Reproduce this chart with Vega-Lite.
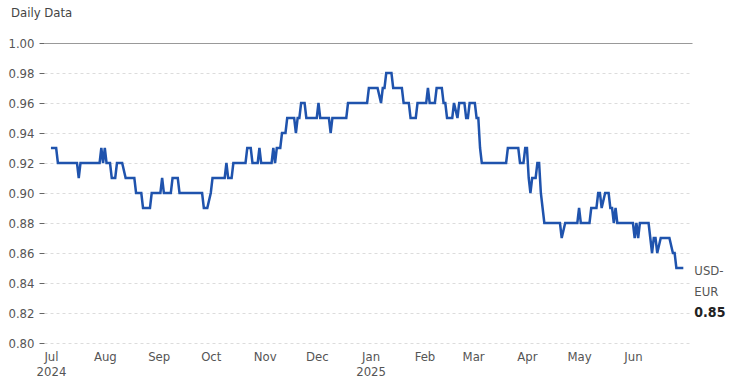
{
  "$schema": "https://vega.github.io/schema/vega-lite/v6.json",
  "width": 648,
  "height": 300,
  "autosize": "none",
  "padding": {"left": 44, "top": 43, "right": 42, "bottom": 44},
  "background": "white",
  "config": {
    "font": "DejaVu Sans Condensed",
    "view": {"stroke": null}
  },
  "title": {
    "text": "Daily Data",
    "anchor": "start",
    "frame": "group",
    "dx": -33,
    "offset": 17,
    "fontSize": 13,
    "fontWeight": "normal",
    "color": "#444",
    "font": "DejaVu Sans Condensed"
  },
  "data": {
    "values": [
      {"date": "2024-07-01", "value": 0.93},
      {"date": "2024-07-04", "value": 0.93},
      {"date": "2024-07-05", "value": 0.92},
      {"date": "2024-07-16", "value": 0.92},
      {"date": "2024-07-17", "value": 0.91},
      {"date": "2024-07-18", "value": 0.92},
      {"date": "2024-07-29", "value": 0.92},
      {"date": "2024-07-30", "value": 0.93},
      {"date": "2024-07-31", "value": 0.92},
      {"date": "2024-08-01", "value": 0.93},
      {"date": "2024-08-02", "value": 0.92},
      {"date": "2024-08-04", "value": 0.92},
      {"date": "2024-08-05", "value": 0.91},
      {"date": "2024-08-07", "value": 0.91},
      {"date": "2024-08-08", "value": 0.92},
      {"date": "2024-08-11", "value": 0.92},
      {"date": "2024-08-13", "value": 0.91},
      {"date": "2024-08-18", "value": 0.91},
      {"date": "2024-08-19", "value": 0.90},
      {"date": "2024-08-22", "value": 0.90},
      {"date": "2024-08-23", "value": 0.89},
      {"date": "2024-08-27", "value": 0.89},
      {"date": "2024-08-28", "value": 0.90},
      {"date": "2024-09-02", "value": 0.90},
      {"date": "2024-09-03", "value": 0.91},
      {"date": "2024-09-04", "value": 0.90},
      {"date": "2024-09-08", "value": 0.90},
      {"date": "2024-09-09", "value": 0.91},
      {"date": "2024-09-12", "value": 0.91},
      {"date": "2024-09-13", "value": 0.90},
      {"date": "2024-09-26", "value": 0.90},
      {"date": "2024-09-27", "value": 0.89},
      {"date": "2024-09-29", "value": 0.89},
      {"date": "2024-10-01", "value": 0.90},
      {"date": "2024-10-02", "value": 0.91},
      {"date": "2024-10-09", "value": 0.91},
      {"date": "2024-10-10", "value": 0.92},
      {"date": "2024-10-11", "value": 0.91},
      {"date": "2024-10-13", "value": 0.91},
      {"date": "2024-10-14", "value": 0.92},
      {"date": "2024-10-21", "value": 0.92},
      {"date": "2024-10-22", "value": 0.93},
      {"date": "2024-10-24", "value": 0.93},
      {"date": "2024-10-25", "value": 0.92},
      {"date": "2024-10-28", "value": 0.92},
      {"date": "2024-10-29", "value": 0.93},
      {"date": "2024-10-30", "value": 0.92},
      {"date": "2024-11-05", "value": 0.92},
      {"date": "2024-11-06", "value": 0.93},
      {"date": "2024-11-07", "value": 0.92},
      {"date": "2024-11-08", "value": 0.93},
      {"date": "2024-11-10", "value": 0.93},
      {"date": "2024-11-11", "value": 0.94},
      {"date": "2024-11-13", "value": 0.94},
      {"date": "2024-11-14", "value": 0.95},
      {"date": "2024-11-18", "value": 0.95},
      {"date": "2024-11-19", "value": 0.94},
      {"date": "2024-11-20", "value": 0.95},
      {"date": "2024-11-21", "value": 0.95},
      {"date": "2024-11-22", "value": 0.96},
      {"date": "2024-11-24", "value": 0.96},
      {"date": "2024-11-25", "value": 0.95},
      {"date": "2024-12-01", "value": 0.95},
      {"date": "2024-12-02", "value": 0.96},
      {"date": "2024-12-03", "value": 0.95},
      {"date": "2024-12-08", "value": 0.95},
      {"date": "2024-12-09", "value": 0.94},
      {"date": "2024-12-10", "value": 0.95},
      {"date": "2024-12-18", "value": 0.95},
      {"date": "2024-12-19", "value": 0.96},
      {"date": "2024-12-30", "value": 0.96},
      {"date": "2024-12-31", "value": 0.97},
      {"date": "2025-01-05", "value": 0.97},
      {"date": "2025-01-07", "value": 0.96},
      {"date": "2025-01-08", "value": 0.97},
      {"date": "2025-01-09", "value": 0.97},
      {"date": "2025-01-10", "value": 0.98},
      {"date": "2025-01-13", "value": 0.98},
      {"date": "2025-01-14", "value": 0.97},
      {"date": "2025-01-19", "value": 0.97},
      {"date": "2025-01-20", "value": 0.96},
      {"date": "2025-01-23", "value": 0.96},
      {"date": "2025-01-24", "value": 0.95},
      {"date": "2025-01-27", "value": 0.95},
      {"date": "2025-01-28", "value": 0.96},
      {"date": "2025-02-02", "value": 0.96},
      {"date": "2025-02-03", "value": 0.97},
      {"date": "2025-02-04", "value": 0.96},
      {"date": "2025-02-07", "value": 0.96},
      {"date": "2025-02-08", "value": 0.97},
      {"date": "2025-02-11", "value": 0.97},
      {"date": "2025-02-12", "value": 0.96},
      {"date": "2025-02-13", "value": 0.96},
      {"date": "2025-02-14", "value": 0.95},
      {"date": "2025-02-17", "value": 0.95},
      {"date": "2025-02-18", "value": 0.96},
      {"date": "2025-02-20", "value": 0.95},
      {"date": "2025-02-21", "value": 0.96},
      {"date": "2025-02-24", "value": 0.96},
      {"date": "2025-02-25", "value": 0.95},
      {"date": "2025-02-26", "value": 0.95},
      {"date": "2025-02-27", "value": 0.96},
      {"date": "2025-03-02", "value": 0.96},
      {"date": "2025-03-03", "value": 0.95},
      {"date": "2025-03-04", "value": 0.95},
      {"date": "2025-03-05", "value": 0.93},
      {"date": "2025-03-06", "value": 0.92},
      {"date": "2025-03-20", "value": 0.92},
      {"date": "2025-03-21", "value": 0.93},
      {"date": "2025-03-27", "value": 0.93},
      {"date": "2025-03-28", "value": 0.92},
      {"date": "2025-03-30", "value": 0.92},
      {"date": "2025-03-31", "value": 0.93},
      {"date": "2025-04-01", "value": 0.93},
      {"date": "2025-04-02", "value": 0.91},
      {"date": "2025-04-03", "value": 0.90},
      {"date": "2025-04-04", "value": 0.91},
      {"date": "2025-04-06", "value": 0.91},
      {"date": "2025-04-07", "value": 0.92},
      {"date": "2025-04-08", "value": 0.92},
      {"date": "2025-04-09", "value": 0.90},
      {"date": "2025-04-10", "value": 0.89},
      {"date": "2025-04-11", "value": 0.88},
      {"date": "2025-04-20", "value": 0.88},
      {"date": "2025-04-21", "value": 0.87},
      {"date": "2025-04-23", "value": 0.88},
      {"date": "2025-04-30", "value": 0.88},
      {"date": "2025-05-01", "value": 0.89},
      {"date": "2025-05-02", "value": 0.88},
      {"date": "2025-05-07", "value": 0.88},
      {"date": "2025-05-08", "value": 0.89},
      {"date": "2025-05-11", "value": 0.89},
      {"date": "2025-05-12", "value": 0.90},
      {"date": "2025-05-13", "value": 0.90},
      {"date": "2025-05-14", "value": 0.89},
      {"date": "2025-05-16", "value": 0.90},
      {"date": "2025-05-18", "value": 0.90},
      {"date": "2025-05-19", "value": 0.89},
      {"date": "2025-05-20", "value": 0.89},
      {"date": "2025-05-21", "value": 0.88},
      {"date": "2025-05-22", "value": 0.89},
      {"date": "2025-05-23", "value": 0.88},
      {"date": "2025-06-01", "value": 0.88},
      {"date": "2025-06-02", "value": 0.87},
      {"date": "2025-06-03", "value": 0.88},
      {"date": "2025-06-04", "value": 0.87},
      {"date": "2025-06-05", "value": 0.88},
      {"date": "2025-06-10", "value": 0.88},
      {"date": "2025-06-11", "value": 0.87},
      {"date": "2025-06-12", "value": 0.86},
      {"date": "2025-06-13", "value": 0.87},
      {"date": "2025-06-14", "value": 0.87},
      {"date": "2025-06-15", "value": 0.86},
      {"date": "2025-06-17", "value": 0.87},
      {"date": "2025-06-22", "value": 0.87},
      {"date": "2025-06-24", "value": 0.86},
      {"date": "2025-06-25", "value": 0.86},
      {"date": "2025-06-26", "value": 0.85},
      {"date": "2025-06-30", "value": 0.85}
    ]
  },
  "encoding": {
    "x": {
      "field": "date",
      "type": "temporal",
      "scale": {"type": "utc", "domain": ["2024-06-27", "2025-07-05"]},
      "axis": {
        "title": null,
        "grid": false,
        "ticks": false,
        "domain": false,
        "tickCount": {"interval": "month", "step": 1},
        "labelExpr": "(utcyear(datum.value) == 2025 && utcmonth(datum.value) == 6) ? '' : ((utcmonth(datum.value) == 0 || (utcmonth(datum.value) == 6 && utcyear(datum.value) == 2024)) ? [utcFormat(datum.value, '%b'), utcFormat(datum.value, '%Y')] : utcFormat(datum.value, '%b'))",
        "labelFontSize": 13,
        "labelColor": "#555",
        "labelPadding": 7,
        "labelLineHeight": 15,
        "labelOverlap": false,
        "labelAlign": "center",
        "labelBaseline": "top",
        "labelFlush": false
      }
    },
    "y": {
      "field": "value",
      "type": "quantitative",
      "scale": {"domain": [0.8, 1.0], "nice": false, "zero": false},
      "axis": {
        "title": null,
        "values": [0.8, 0.82, 0.84, 0.86, 0.88, 0.9, 0.92, 0.94, 0.96, 0.98, 1.0],
        "format": ".2f",
        "domain": false,
        "tickSize": 5,
        "tickColor": "#666",
        "labelPadding": 5,
        "labelFontSize": 13,
        "labelColor": "#555",
        "gridColor": {"condition": {"test": "datum.value >= 0.999", "value": "#999"}, "value": "#dcdcdc"},
        "gridDash": {"condition": {"test": "datum.value >= 0.999", "value": []}, "value": [3, 3]},
        "gridWidth": 1
      }
    }
  },
  "layer": [
    {
      "mark": {"type": "line", "color": "#1f53ad", "strokeWidth": 2.5, "interpolate": "linear"}
    },
    {
      "transform": [{"filter": "utcyear(datum.date) == 2025 && utcmonth(datum.date) == 5 && utcdate(datum.date) == 30"}],
      "mark": {"type": "text", "align": "left", "baseline": "alphabetic", "dx": 11, "dy": 7, "fontSize": 13, "color": "#555", "lineHeight": 21, "text": ["USD-", "EUR"]}
    },
    {
      "transform": [{"filter": "utcyear(datum.date) == 2025 && utcmonth(datum.date) == 5 && utcdate(datum.date) == 30"}],
      "mark": {"type": "text", "align": "left", "baseline": "alphabetic", "dx": 11, "dy": 49, "fontSize": 14, "fontWeight": "bold", "color": "#222"},
      "encoding": {"text": {"field": "value", "type": "quantitative", "format": ".2f"}}
    }
  ]
}
